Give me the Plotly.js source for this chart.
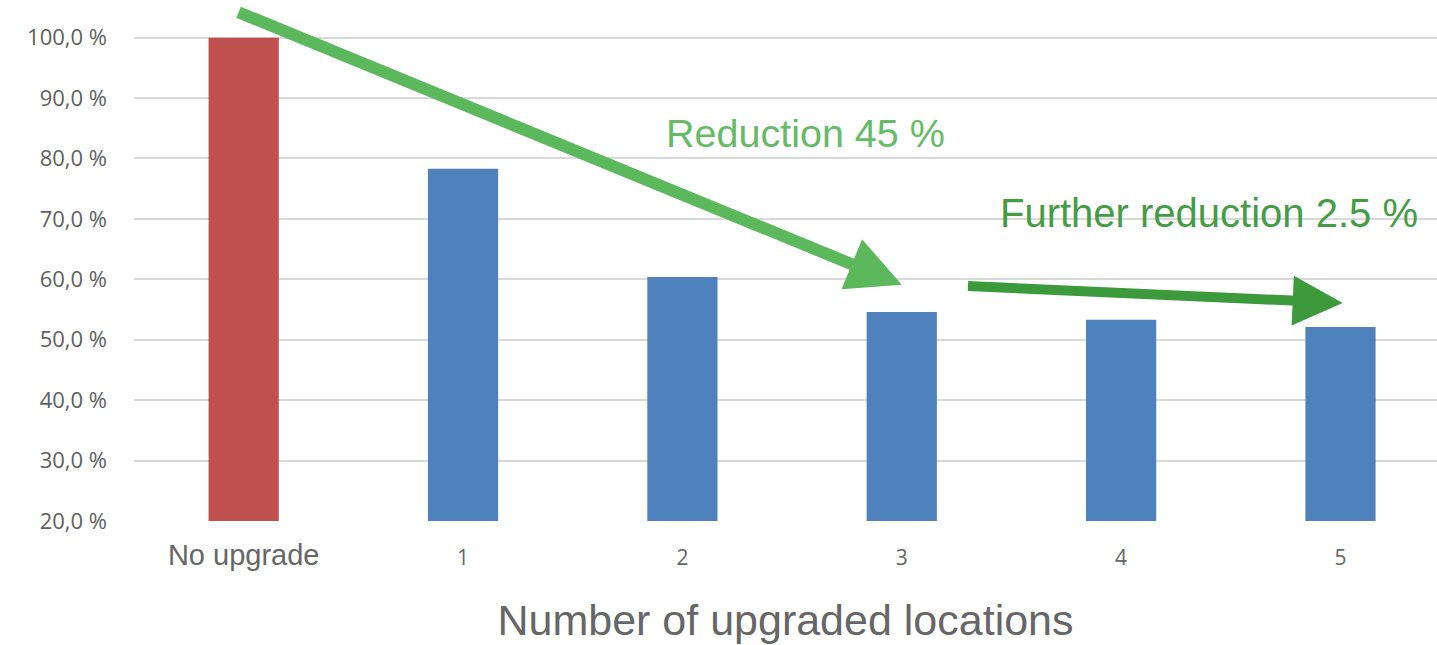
<!DOCTYPE html>
<html>
<head>
<meta charset="utf-8">
<script src="https://cdn.plot.ly/plotly-3.0.1.min.js"></script>
<style>html,body{margin:0;padding:0;background:#fff;}#chart{width:1437px;height:645px;}</style>
</head>
<body>
<div id="chart"></div>
<script>
// Data
const categories = ["No upgrade", "1", "2", "3", "4", "5"];
const values = [100.0, 78.3, 60.4, 54.6, 53.3, 52.1];
const barColors = ["#c0504d", "#4f81bd", "#4f81bd", "#4f81bd", "#4f81bd", "#4f81bd"];
const yTicks = [20, 30, 40, 50, 60, 70, 80, 90, 100];
const yTickText = yTicks.map(v => v.toFixed(1).replace(".", ",") + " %");
const xTitle = "Number of upgraded locations";
const note1 = "Reduction 45 %";
const note2 = "Further reduction 2.5 %";

const xIdx = categories.map((c, i) => i);
const xTickText = categories.map((c, i) => i === 0
  ? '<span style="font-size:29px;font-family:Liberation Sans">' + c + '</span>'
  : c);

const trace = {
  type: "bar",
  x: xIdx,
  y: values,
  marker: {color: barColors},
  width: 0.32,
  hoverinfo: "skip"
};

const layout = {
  width: 1437, height: 645,
  margin: {l: 134, r: 0, t: 34, b: 124},
  paper_bgcolor: "#fff", plot_bgcolor: "#fff",
  showlegend: false,
  font: {family: "Liberation Sans, Arial, sans-serif", color: "#595959"},
  xaxis: {
    range: [-0.5, 5.44],
    tickvals: xIdx,
    ticktext: xTickText,
    tickfont: {size: 21, color: "#666666", family: "Open Sans, sans-serif"},
    showgrid: false, zeroline: false, showline: false,
    ticks: "", ticklabelstandoff: 22,
    title: {text: xTitle, font: {size: 43, color: "#666666"}, standoff: 34},
    fixedrange: true
  },
  yaxis: {
    range: [20, 100.6],
    tickvals: yTicks,
    ticktext: yTickText,
    tickfont: {size: 22, color: "#606060", family: "Open Sans, sans-serif"},
    showgrid: true, gridcolor: "#d9d9d9", gridwidth: 2,
    zeroline: false, showline: false, ticks: "",
    ticklabelstandoff: 26,
    fixedrange: true
  },
  annotations: [
    {
      xref: "x", yref: "y", axref: "x", ayref: "y",
      x: 3.0, y: 59.1, ax: -0.03, ay: 104.3,
      showarrow: true, arrowhead: 2, arrowsize: 0.9, arrowwidth: 12,
      arrowcolor: "#5cb85c", text: ""
    },
    {
      xref: "x", yref: "y", axref: "x", ayref: "y",
      x: 5.01, y: 56.1, ax: 3.295, ay: 58.9,
      showarrow: true, arrowhead: 2, arrowsize: 1.0, arrowwidth: 10,
      arrowcolor: "#3c9a3c", text: ""
    },
    {
      xref: "x", yref: "y", x: 2.56, y: 84.2,
      text: note1, showarrow: false,
      font: {size: 39.5, color: "#66bb66", family: "Liberation Sans, Arial, sans-serif"}
    },
    {
      xref: "x", yref: "y", x: 4.40, y: 71.0,
      text: note2, showarrow: false,
      font: {size: 40, color: "#449c44", family: "Liberation Sans, Arial, sans-serif"}
    }
  ]
};

Plotly.newPlot("chart", [trace], layout, {displayModeBar: false, staticPlot: true});
</script>
</body>
</html>
